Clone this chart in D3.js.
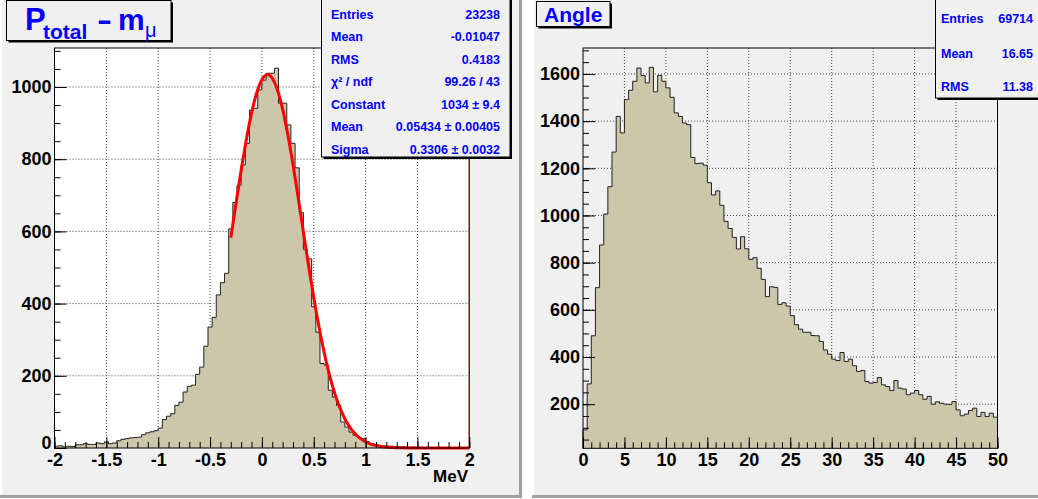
<!DOCTYPE html>
<html>
<head>
<meta charset="utf-8">
<script src="https://d3js.org/d3.v7.min.js"></script>
<style>
  body { margin: 0; background: #fff; }
  svg text { font-family: "Liberation Sans", Arial, Helvetica, sans-serif; font-weight: bold; }
  svg text.thin { font-weight: normal; }
</style>
</head>
<body>
<svg width="1038" height="499"></svg>
<script>
// ---- data ----
var momRange = [-2, 2];
var momCounts = [
  5, 6, 3, 5, 4, 9, 9, 12, 10, 10,
  14, 12, 17, 12, 14, 20, 24, 26, 28, 29,
  30, 37, 42, 45, 48, 55, 79, 88, 95, 118,
  127, 155, 171, 174, 204, 224, 282, 335, 362, 424,
  458, 484, 607, 680, 728, 784, 844, 936, 941, 992,
  1019, 1038, 1038, 1052, 955, 955, 895, 844, 776, 652,
  550, 524, 391, 321, 234, 230, 160, 141, 118, 72,
  58, 44, 35, 29, 26, 17, 12, 10, 7, 6,
  5, 5, 4, 3, 3, 2, 3, 1, 2, 0,
  1, 0, 1, 0, 0, 1, 0, 0, 0, 0
];
var momXTicks = [-2, -1.5, -1, -0.5, 0, 0.5, 1, 1.5, 2];
var momYTicks = [0, 200, 400, 600, 800, 1000];
var momYDomain = [0, 1108];
var fitParams = [1034, 0.05434, 0.3306];   // constant, mean, sigma
var fitRange = [-0.3, 2];
var momStatLabels = ["Entries", "Mean", "RMS", "\u03c7\u00b2 / ndf", "Constant", "Mean", "Sigma"];
var momStatValues = ["23238", "-0.01047", "0.4183", "99.26 / 43", "1034 \u00b1 9.4", "0.05434 \u00b1 0.00405", "0.3306 \u00b1 0.0032"];

var angRange = [0, 50];
var angCounts = [
  91, 286, 490, 694, 875, 1006, 1122, 1269, 1420, 1350,
  1491, 1531, 1569, 1625, 1593, 1562, 1628, 1524, 1594, 1569,
  1541, 1501, 1435, 1420, 1392, 1385, 1246, 1220, 1222, 1213,
  1139, 1087, 1104, 1043, 975, 945, 907, 858, 910, 859,
  814, 821, 776, 729, 656, 698, 695, 623, 630, 616,
  575, 537, 518, 505, 505, 491, 490, 466, 430, 412,
  391, 385, 419, 381, 391, 363, 339, 343, 296, 289,
  292, 313, 282, 275, 258, 300, 268, 264, 240, 247,
  258, 240, 221, 233, 200, 210, 204, 200, 199, 211,
  176, 151, 158, 173, 183, 148, 165, 148, 162, 145
];
var angXTicks = [0, 5, 10, 15, 20, 25, 30, 35, 40, 45, 50];
var angYTicks = [200, 400, 600, 800, 1000, 1200, 1400, 1600];
var angYDomain = [13, 1710];
var angStatLabels = ["Entries", "Mean", "RMS"];
var angStatValues = ["69714", "16.65", "11.38"];

var svg = d3.select("svg");
var padColor = "#f0f0f0",
  shadowColor = "#a0a0a0",
  histFill = "#ccc6aa",
  blue = "#0000ff";

// pads
function pad(x0, x1) {
  svg.append("rect").attr("x", x0).attr("y", 0).attr("width", x1 - x0 + 3).attr("height", 498).attr("fill", shadowColor);
  svg.append("rect").attr("x", x0).attr("y", 0).attr("width", x1 - x0).attr("height", 495).attr("fill", padColor);
  svg.append("rect").attr("x", x0).attr("y", 0).attr("width", 2).attr("height", 495).attr("fill", "#fff");
}
pad(0, 519);
pad(532, 1040);

function minorVals(domain, step) {
  var out = [];
  for (var v = Math.ceil(domain[0] / step) * step; v <= domain[1] + 1e-9; v += step) out.push(+v.toFixed(6));
  return out;
}

function drawPanel(o) {
  var x = d3.scaleLinear().domain(o.xDomain).range([o.left, o.right]);
  var y = d3.scaleLinear().domain(o.yDomain).range([o.bottom, o.top]);
  var g = svg.append("g");

  g.append("rect").attr("x", o.left).attr("y", o.top)
    .attr("width", o.right - o.left).attr("height", o.bottom - o.top)
    .attr("fill", o.frameFill);

  // grid
  g.selectAll(".gx").data(o.xTicks.slice(1, -1)).enter().append("line")
    .attr("x1", d => x(d)).attr("x2", d => x(d)).attr("y1", o.top).attr("y2", o.bottom)
    .attr("stroke", "#444").attr("stroke-dasharray", "1 2");
  g.selectAll(".gy").data(o.yTicks.filter(d => d > o.yDomain[0])).enter().append("line")
    .attr("x1", o.left).attr("x2", o.right).attr("y1", d => y(d)).attr("y2", d => y(d))
    .attr("stroke", "#444").attr("stroke-dasharray", "1 2");

  // histogram
  var n = o.counts.length, w = (o.xDomain[1] - o.xDomain[0]) / n;
  var p = "M" + x(o.xDomain[0]) + "," + y(o.yDomain[0]);
  o.counts.forEach(function(c, i) {
    var v = Math.max(c, o.yDomain[0]);
    p += "V" + y(v) + "H" + x(o.xDomain[0] + (i + 1) * w);
  });
  p += "V" + y(o.yDomain[0]);
  g.append("path").attr("d", p + "Z").attr("fill", histFill);
  g.append("path").attr("d", p).attr("fill", "none").attr("stroke", "#222").attr("stroke-width", 1);

  if (o.fit) {
    var pts = d3.range(0, 201).map(function(k) {
      var xv = o.fit.range[0] + (o.fit.range[1] - o.fit.range[0]) * k / 200;
      var z = (xv - o.fit.p[1]) / o.fit.p[2];
      return [xv, o.fit.p[0] * Math.exp(-0.5 * z * z)];
    });
    g.append("path").attr("d", d3.line().x(d => x(d[0])).y(d => y(d[1]))(pts))
      .attr("fill", "none").attr("stroke", "#ff0000").attr("stroke-width", 3);
  }

  // frame
  g.append("rect").attr("x", o.left).attr("y", o.top)
    .attr("width", o.right - o.left).attr("height", o.bottom - o.top)
    .attr("fill", "none").attr("stroke", "#000").attr("stroke-width", 1);
  if (o.fit) {
    g.append("line").attr("x1", o.right).attr("x2", o.right).attr("y1", o.top).attr("y2", o.bottom)
      .attr("stroke", "#900").attr("stroke-width", 1.2);
  }

  // axes
  g.append("g").attr("transform", "translate(0," + o.bottom + ")")
    .call(d3.axisBottom(x).tickValues(o.xTicks).tickFormat(d => String(d))
      .tickSizeInner(-11).tickSizeOuter(0).tickPadding(5));
  g.append("g").attr("transform", "translate(0," + o.bottom + ")")
    .call(d3.axisBottom(x).tickValues(minorVals(o.xDomain, o.xMinor)).tickFormat("")
      .tickSizeInner(-6).tickSizeOuter(0));
  var ay = g.append("g").attr("transform", "translate(" + o.left + ",0)")
    .call(d3.axisLeft(y).tickValues(o.yTicks).tickFormat(d => String(d))
      .tickSizeInner(-12).tickSizeOuter(0).tickPadding(3));
  g.append("g").attr("transform", "translate(" + o.left + ",0)")
    .call(d3.axisLeft(y).tickValues(minorVals(o.yDomain, o.yMinor)).tickFormat("")
      .tickSizeInner(-6).tickSizeOuter(0));
  g.selectAll(".domain").remove();
  g.selectAll(".tick line").attr("stroke", "#000");
  g.selectAll(".tick text").attr("font-size", 18).attr("fill", "#000")
    .attr("font-family", "Liberation Sans, Arial, sans-serif").attr("font-weight", "bold");
  // the zero label sits just above the x labels, as in ROOT
  ay.selectAll(".tick text").filter(d => d === 0).attr("dy", "0.05em");
}

drawPanel({
  left: 54.5, right: 469.3, top: 48, bottom: 448,
  xDomain: momRange, yDomain: momYDomain, counts: momCounts,
  xTicks: momXTicks, yTicks: momYTicks, xMinor: 0.1, yMinor: 50,
  frameFill: "#fff",
  fit: { p: fitParams, range: fitRange }
});
drawPanel({
  left: 583, right: 997.5, top: 48, bottom: 448.3,
  xDomain: angRange, yDomain: angYDomain, counts: angCounts,
  xTicks: angXTicks, yTicks: angYTicks, xMinor: 1, yMinor: 50,
  frameFill: padColor
});

svg.append("text").attr("x", 468).attr("y", 482).attr("text-anchor", "end")
  .attr("font-size", 17).text("MeV");

// boxes with shadow
function box(x0, y0, x1, y1) {
  svg.append("rect").attr("x", x0 + 2).attr("y", y0 + 2).attr("width", x1 - x0).attr("height", y1 - y0).attr("fill", "#000");
  svg.append("rect").attr("x", x0).attr("y", y0).attr("width", x1 - x0).attr("height", y1 - y0)
    .attr("fill", padColor).attr("stroke", "#000").attr("stroke-width", 1);
}

// titles
box(6.5, 0.5, 171, 40.5);
var t = svg.append("g").attr("fill", blue);
t.append("text").attr("x", 25).attr("y", 30).attr("font-size", 31).text("P");
t.append("text").attr("x", 43).attr("y", 39).attr("font-size", 21).text("total");
t.append("text").attr("x", 97).attr("y", 30).attr("font-size", 30)
  .attr("textLength", 15).attr("lengthAdjust", "spacingAndGlyphs").text("-");
t.append("text").attr("x", 118).attr("y", 30).attr("font-size", 30).text("m");
t.append("text").attr("class", "thin").attr("x", 145).attr("y", 37).attr("font-size", 20).text("\u03bc");

box(536.5, 1.5, 610, 26.5);
svg.append("text").attr("x", 544).attr("y", 22).attr("font-size", 21).attr("fill", blue).text("Angle");

// stats boxes
function stats(x0, y0, x1, y1, lx, rx, rows, labels, values) {
  box(x0, y0, x1, y1);
  var g = svg.append("g").attr("fill", blue).attr("font-size", 12.5);
  labels.forEach(function(l, i) {
    g.append("text").attr("x", lx).attr("y", rows[i]).attr("dy", "0.36em").text(l);
    g.append("text").attr("x", rx).attr("y", rows[i]).attr("dy", "0.36em")
      .attr("text-anchor", "end").text(values[i]);
  });
}
stats(321.5, -2, 510, 157, 331, 500, d3.range(7).map(i => 14 + 22.5 * i), momStatLabels, momStatValues);
stats(935.5, -2, 1045, 98, 941, 1033, [18, 53, 86], angStatLabels, angStatValues);
</script>
</body>
</html>
